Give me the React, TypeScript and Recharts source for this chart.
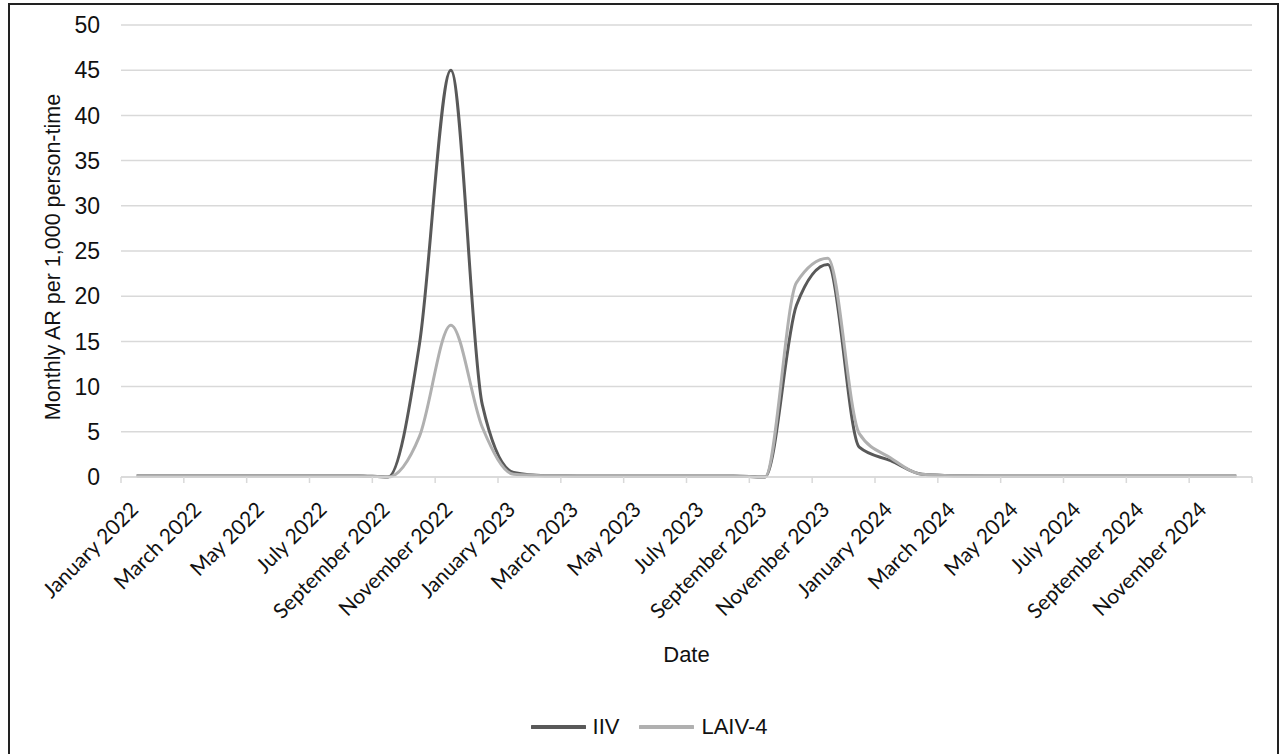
import { LineChart, Line, XAxis, YAxis, CartesianGrid, Legend } from "recharts";

// Monthly attack rate per 1,000 person-time, Jan 2022 - Dec 2024
const months = [
  "January 2022", "February 2022", "March 2022", "April 2022", "May 2022", "June 2022",
  "July 2022", "August 2022", "September 2022", "October 2022", "November 2022", "December 2022",
  "January 2023", "February 2023", "March 2023", "April 2023", "May 2023", "June 2023",
  "July 2023", "August 2023", "September 2023", "October 2023", "November 2023", "December 2023",
  "January 2024", "February 2024", "March 2024", "April 2024", "May 2024", "June 2024",
  "July 2024", "August 2024", "September 2024", "October 2024", "November 2024", "December 2024",
];

const iiv = [
  0.15, 0.15, 0.15, 0.15, 0.15, 0.15, 0.15, 0.15, 0, 14.7, 45, 8,
  0.5, 0.15, 0.12, 0.12, 0.12, 0.12, 0.12, 0.12, 0, 19, 23.5, 3.3,
  1.8, 0.3, 0.15, 0.12, 0.12, 0.12, 0.12, 0.12, 0.12, 0.12, 0.12, 0.12,
];

const laiv = [
  0.15, 0.15, 0.15, 0.15, 0.15, 0.15, 0.15, 0.15, 0, 4.5, 16.8, 5.5,
  0.3, 0.15, 0.12, 0.12, 0.12, 0.12, 0.12, 0.12, 0, 21.5, 24.2, 4.8,
  2.1, 0.3, 0.15, 0.12, 0.12, 0.12, 0.12, 0.12, 0.12, 0.12, 0.12, 0.12,
];

const yTicks = [0, 5, 10, 15, 20, 25, 30, 35, 40, 45, 50];

const data = months.map((m, i) => ({ month: m, IIV: iiv[i], "LAIV-4": laiv[i] }));

const PLOT_LEFT = 121;
const PLOT_RIGHT = 1252;
const BAND = (PLOT_RIGHT - PLOT_LEFT) / months.length;
const AXIS_FONT = "'Liberation Sans', Arial, sans-serif";

function MonthTick(props: any) {
  const { x, y, payload } = props;
  const idx = months.indexOf(payload.value);
  return (
    <g>
      <line x1={x - BAND / 2} x2={x - BAND / 2} y1={y} y2={y + 6} stroke="#d9d9d9" strokeWidth={1.5} />
      {idx === months.length - 2 && (
        <line x1={x + BAND * 1.5} x2={x + BAND * 1.5} y1={y} y2={y + 6} stroke="#d9d9d9" strokeWidth={1.5} />
      )}
      <text
        x={x + 3}
        y={y + 34}
        textAnchor="end"
        transform={`rotate(-45, ${x + 3}, ${y + 34})`}
        fontFamily="Lato, sans-serif"
        fontSize={21}
        fill="#111"
      >
        {payload.value}
      </text>
    </g>
  );
}

function YTitle(props: any) {
  const { viewBox } = props;
  const cx = 53;
  const cy = viewBox.y + viewBox.height / 2 + 6;
  return (
    <text
      x={cx}
      y={cy}
      textAnchor="middle"
      dominantBaseline="central"
      transform={`rotate(-90, ${cx}, ${cy})`}
      fontFamily={AXIS_FONT}
      fontSize={21.5}
      fill="#111"
    >
      Monthly AR per 1,000 person-time
    </text>
  );
}

function renderLegend(props: any) {
  const { payload } = props;
  return (
    <div style={{ display: "flex", justifyContent: "center", alignItems: "center", paddingLeft: 36 }}>
      {payload.map((entry: any) => (
        <span key={entry.value} style={{ display: "inline-flex", alignItems: "center", marginRight: 20 }}>
          <svg width={55} height={8}>
            <line x1={1} y1={4} x2={54} y2={4} stroke={entry.color} strokeWidth={4} strokeLinecap="round" />
          </svg>
          <span style={{ marginLeft: 7, fontFamily: AXIS_FONT, fontSize: 22, color: "#111" }}>{entry.value}</span>
        </span>
      ))}
    </div>
  );
}

export default function App() {
  return (
    <div style={{ position: "absolute", left: 0, top: 0, width: 1280, height: 754, background: "#fff", overflow: "hidden" }}>
      <div
        style={{
          position: "absolute",
          left: 8,
          top: 3,
          width: 1271,
          height: 770,
          border: "2px solid #222",
          boxSizing: "border-box",
        }}
      />
      <LineChart width={1280} height={754} data={data} margin={{ top: 25, right: 28, left: 30, bottom: 14 }}>
        <CartesianGrid vertical={false} stroke="#d9d9d9" strokeWidth={1.5} />
        <XAxis
          dataKey="month"
          interval={1}
          height={237}
          padding={{ left: BAND / 2, right: BAND / 2 }}
          tickLine={false}
          tickSize={0}
          tickMargin={0}
          axisLine={{ stroke: "#d9d9d9", strokeWidth: 1.5 }}
          tick={<MonthTick />}
          label={{ value: "Date", position: "insideBottom", offset: 52, style: { fontFamily: AXIS_FONT, fontSize: 22, fill: "#111" } }}
        />
        <YAxis
          width={91}
          domain={[0, 50]}
          ticks={yTicks}
          axisLine={false}
          tickLine={false}
          tickSize={0}
          tickMargin={21}
          tick={{ fontFamily: AXIS_FONT, fontSize: 23, fill: "#111" }}
          label={<YTitle />}
        />
        <Legend verticalAlign="bottom" content={renderLegend} />
        <Line type="monotone" dataKey="IIV" stroke="#595959" strokeWidth={3} dot={false} isAnimationActive={false} />
        <Line type="monotone" dataKey="LAIV-4" stroke="#b0b0b0" strokeWidth={3} dot={false} isAnimationActive={false} />
      </LineChart>
    </div>
  );
}
